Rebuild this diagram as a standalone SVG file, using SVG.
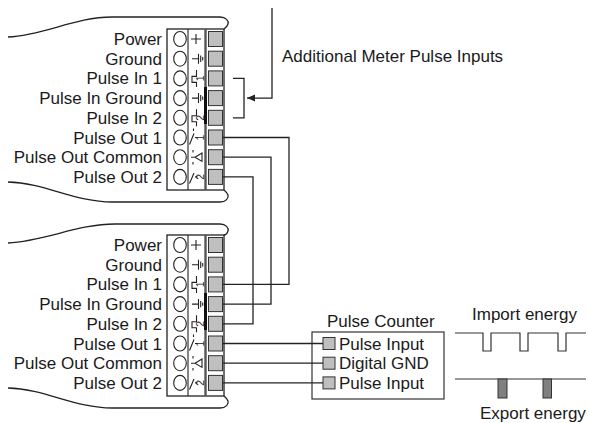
<svg xmlns="http://www.w3.org/2000/svg" xmlns:xlink="http://www.w3.org/1999/xlink" width="589" height="423" viewBox="0 0 589 423">
<style>
.ln{fill:none;stroke:#222;stroke-width:1.3}
.thin{fill:none;stroke:#222;stroke-width:1.1}
.sq{fill:#bfbfbf;stroke:#333;stroke-width:1}
.lbl{font-family:"Liberation Sans",Arial,sans-serif;font-size:17px;fill:#1a1a1a}
.end{text-anchor:end}
.dig{font-family:"Liberation Sans",Arial,sans-serif;font-size:10.5px;fill:#222;text-anchor:middle}
</style>
<defs>
<marker id="ah" markerUnits="userSpaceOnUse" markerWidth="9" markerHeight="8" refX="8" refY="3.5" orient="auto">
<path d="M0,0 L8,3.5 L0,7 Z" fill="#222"/>
</marker>
<g id="term">
<rect x="0" y="0" width="57" height="161" fill="#fff" stroke="#222" stroke-width="1.3"/>
<line x1="21" y1="0" x2="21" y2="161" stroke="#222" stroke-width="1.1"/>
<line x1="38.5" y1="0" x2="38.5" y2="161" stroke="#555" stroke-width="2.4"/>
<line x1="38.5" y1="58" x2="38.5" y2="95" stroke="#111" stroke-width="3"/>
<g class="thin">
<ellipse cx="13" cy="10" rx="6.3" ry="7.5"/>
<ellipse cx="13" cy="29.7" rx="6.3" ry="7.5"/>
<ellipse cx="13" cy="49.4" rx="6.3" ry="7.5"/>
<ellipse cx="13" cy="69.1" rx="6.3" ry="7.5"/>
<ellipse cx="13" cy="88.8" rx="6.3" ry="7.5"/>
<ellipse cx="13" cy="108.5" rx="6.3" ry="7.5"/>
<ellipse cx="13" cy="128.2" rx="6.3" ry="7.5"/>
<ellipse cx="13" cy="147.9" rx="6.3" ry="7.5"/>
<path d="M24 10 H34 M29 5 V15"/>
<path d="M25 29.7 H31 M31.5 24.7 V34.7 M33.7 26.5 V32.9 M35.7 28 V31.4"/>
<path d="M25 69.1 H31 M31.5 64.1 V74.1 M33.7 65.9 V72.3 M35.7 67.4 V70.8"/>
<path d="M29.5 57.9 V53.4 H25 V47.4 H29.5 V40.9"/>
<path d="M29.5 97.3 V92.8 H25 V86.8 H29.5 V80.3"/>
<path d="M22.5 115.5 L27 104.5 M26.5 99.5 V102 M28 108.5 H30.5"/>
<path d="M26 121 V123.5 M24 128.2 H27.5 M26 133 V135.5"/>
<path d="M28 128.2 L35 124 L35 132.4 Z"/>
<path d="M22.5 154.5 L27 144 M28 147.9 H30.5"/>
</g>
<text class="dig" transform="translate(37.2 49.4) rotate(-90)">1</text>
<text class="dig" transform="translate(37.2 88.8) rotate(-90)">2</text>
<text class="dig" transform="translate(37.2 108.5) rotate(-90)">1</text>
<text class="dig" transform="translate(37.2 147.9) rotate(-90)">2</text>
<rect class="sq" x="41.5" y="2.5" width="14" height="15"/>
<rect class="sq" x="41.5" y="22.2" width="14" height="15"/>
<rect class="sq" x="41.5" y="41.9" width="14" height="15"/>
<rect class="sq" x="41.5" y="61.6" width="14" height="15"/>
<rect class="sq" x="41.5" y="81.3" width="14" height="15"/>
<rect class="sq" x="41.5" y="101" width="14" height="15"/>
<rect class="sq" x="41.5" y="120.7" width="14" height="15"/>
<rect class="sq" x="41.5" y="140.4" width="14" height="15"/>
</g>
</defs>
<rect width="589" height="423" fill="#fff"/>

<g id="meter1">
<path class="ln" d="M8 37 C45 35 75 17 112 17 H220 C226 17 229 21 228 24 C227 27 225 28 224 29"/>
<path class="ln" d="M8 182 C45 183 75 202 112 202 H220 C226 202 229 198 228 195 C227 192 225 191 224 190"/>
<use xlink:href="#term" x="167" y="29"/>
<text class="lbl end" x="162" y="45">Power</text>
<text class="lbl end" x="162" y="64.7">Ground</text>
<text class="lbl end" x="162" y="84.4">Pulse In 1</text>
<text class="lbl end" x="162" y="104.1">Pulse In Ground</text>
<text class="lbl end" x="162" y="123.8">Pulse In 2</text>
<text class="lbl end" x="162" y="143.5">Pulse Out 1</text>
<text class="lbl end" x="162" y="163.2">Pulse Out Common</text>
<text class="lbl end" x="162" y="182.9">Pulse Out 2</text>
</g>

<g id="meter2">
<path class="ln" d="M8 243 C45 241 78 224 115 224 H220 C226 224 229 228 228 231 C227 234 225 235 224 235"/>
<path class="ln" d="M8 388 C45 389 75 408 112 408 H220 C226 408 229 404 228 401 C227 398 225 397 224 396"/>
<use xlink:href="#term" x="167" y="235"/>
<text class="lbl end" x="162" y="251">Power</text>
<text class="lbl end" x="162" y="270.7">Ground</text>
<text class="lbl end" x="162" y="290.4">Pulse In 1</text>
<text class="lbl end" x="162" y="310.1">Pulse In Ground</text>
<text class="lbl end" x="162" y="329.8">Pulse In 2</text>
<text class="lbl end" x="162" y="349.5">Pulse Out 1</text>
<text class="lbl end" x="162" y="369.2">Pulse Out Common</text>
<text class="lbl end" x="162" y="388.9">Pulse Out 2</text>
</g>

<g id="additional-inputs">
<path class="ln" d="M233 78.4 H244 V117.8 H233"/>
<text class="lbl" x="282" y="62">Additional Meter Pulse Inputs</text>
</g>

<g id="pulse-counter">
<text class="lbl" x="327" y="327">Pulse Counter</text>
<rect x="312" y="332" width="132" height="67" fill="#fff" stroke="#333" stroke-width="1.2"/>
<rect class="sq" x="323" y="337.5" width="12" height="12"/>
<rect class="sq" x="323" y="357.2" width="12" height="12"/>
<rect class="sq" x="323" y="376.9" width="12" height="12"/>
<text class="lbl" x="339" y="349.5">Pulse Input</text>
<text class="lbl" x="339" y="369.2">Digital GND</text>
<text class="lbl" x="339" y="388.9">Pulse Input</text>
</g>

<g id="import-energy">
<text class="lbl" x="472" y="320">Import energy</text>
<path d="M455 333 H483 V351 H491 V333 H520 V351 H528 V333 H558 V351 H566 V333 H586" fill="none" stroke="#333" stroke-width="1.2"/>
</g>

<g id="export-energy">
<path d="M455 379 H586" fill="none" stroke="#333" stroke-width="1.2"/>
<rect x="498" y="379" width="9" height="19" fill="#808080" stroke="#333" stroke-width="1"/>
<rect x="543" y="379" width="8.5" height="19" fill="#808080" stroke="#333" stroke-width="1"/>
<text class="lbl" x="480" y="419">Export energy</text>
</g>

<g id="connectors">
<path class="ln" d="M272 8 V98.1 H247" marker-end="url(#ah)"/>
<path class="ln" d="M223 137.5 H289 V284.4 H223"/>
<path class="ln" d="M223 157.2 H271 V304.1 H223"/>
<path class="ln" d="M223 176.9 H253 V323.8 H223"/>
<path class="ln" d="M223 343.5 H323"/>
<path class="ln" d="M223 363.2 H323"/>
<path class="ln" d="M223 382.9 H323"/>
</g>
</svg>
